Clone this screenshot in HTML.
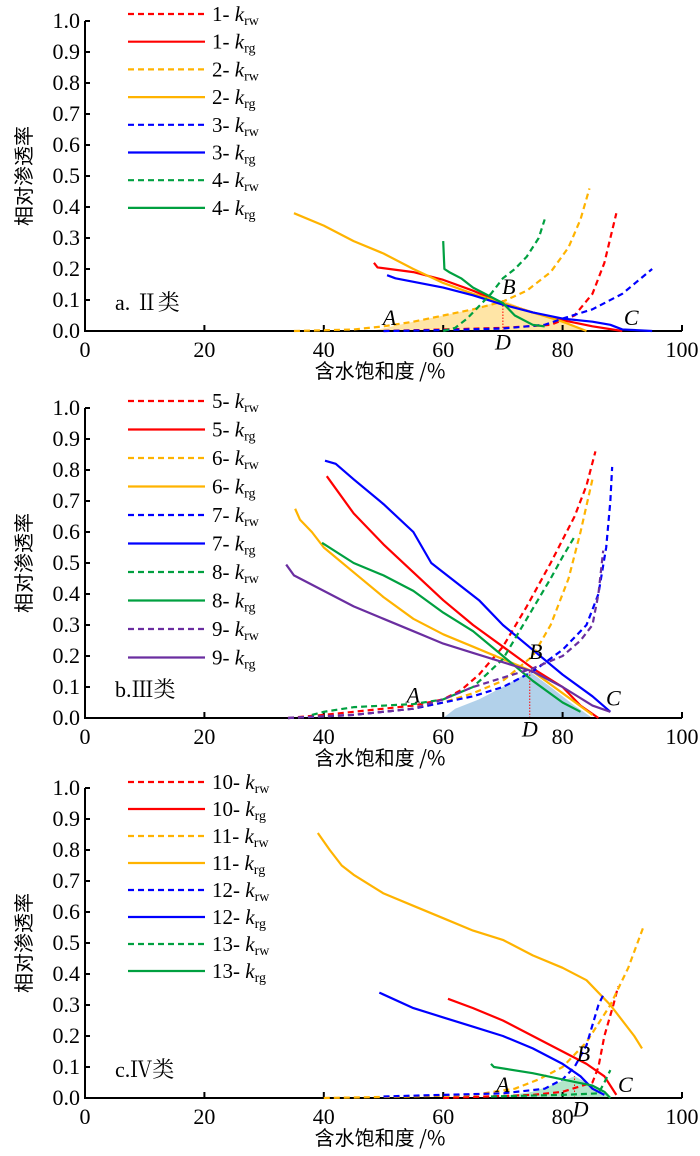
<!DOCTYPE html>
<html><head><meta charset="utf-8"><style>
html,body{margin:0;padding:0;background:#fff;}
svg{display:block;font-family:"Liberation Serif","Noto Serif CJK SC",serif;}
</style></head><body>
<svg id="c" width="700" height="1156" xmlns="http://www.w3.org/2000/svg"></svg>
<script>
const colors={r:"#ff0000",y:"#ffb300",b:"#0000ff",g:"#00a040",p:"#6a2ea0"};
// Panel a series [Sw, k]
const a_krw1=[[50,0],[60,0.005],[70,0.01],[78,0.02],[82,0.05],[85,0.12],[87,0.22],[89,0.38]];
const a_krg1=[[48.4,0.22],[49,0.205],[55,0.19],[60,0.165],[65,0.13],[70,0.09],[75,0.06],[80,0.035],[85,0.015],[90,0]];
const a_krw2=[[35,0],[45,0.005],[50,0.015],[55,0.03],[60,0.05],[65,0.07],[70,0.095],[74,0.13],[78,0.19],[81,0.27],[83,0.36],[84.5,0.46]];
const a_krg2=[[35,0.38],[40,0.34],[45,0.29],[50,0.25],[55,0.2],[60,0.155],[65,0.12],[70,0.09],[75,0.06],[80,0.03],[84,0]];
const a_krw3=[[50,0],[60,0.003],[70,0.008],[77,0.02],[80,0.04],[85,0.07],[90,0.12],[95,0.2]];
const a_krg3=[[50.6,0.18],[52,0.17],[60,0.14],[65,0.115],[70,0.085],[75,0.06],[80,0.04],[85,0.03],[88,0.02],[90,0.005],[95,0]];
const a_krw4=[[60,0],[62,0.01],[64,0.04],[66,0.08],[68,0.12],[70,0.17],[72,0.2],[74,0.24],[76,0.3],[77,0.36]];
const a_krg4=[[60,0.29],[60.2,0.2],[61,0.19],[63,0.17],[65,0.14],[68,0.11],[70,0.09],[72,0.05],[75,0.02],[77,0.015]];
const a_area=[[48,0],[55,0.03],[60,0.05],[65,0.07],[70,0.1],[75,0.06],[80,0.03],[84,0]];
// Panel b
const b_krw5=[[34,0],[40,0.01],[45,0.02],[50,0.03],[55,0.04],[60,0.06],[63,0.09],[66,0.14],[70,0.23],[74,0.36],[78,0.5],[82,0.65],[84,0.75],[85.5,0.86]];
const b_krg5=[[40.5,0.78],[45,0.66],[50,0.56],[55,0.47],[60,0.38],[65,0.3],[70,0.23],[75,0.16],[80,0.1],[83,0.04],[86,0]];
const b_krw6=[[34,0],[45,0.01],[55,0.03],[60,0.05],[65,0.08],[70,0.12],[75,0.2],[78,0.3],[81,0.45],[83,0.6],[85,0.77]];
const b_krg6=[[35.2,0.675],[36,0.64],[38,0.6],[40,0.55],[45,0.47],[50,0.39],[55,0.32],[60,0.27],[65,0.23],[70,0.19],[75,0.15],[80,0.08],[85,0.01]];
const b_krw7=[[34,0],[45,0.01],[55,0.03],[60,0.05],[65,0.07],[70,0.1],[75,0.15],[80,0.22],[84,0.3],[86,0.4],[87.3,0.55],[88,0.7],[88.3,0.81]];
const b_krg7=[[40.2,0.83],[42,0.82],[45,0.77],[50,0.69],[55,0.6],[58,0.5],[62,0.44],[66,0.38],[70,0.3],[75,0.22],[80,0.14],[85,0.07],[88,0.02]];
const b_krw8=[[38,0.01],[40,0.02],[45,0.035],[55,0.045],[60,0.06],[65,0.1],[70,0.19],[74,0.32],[78,0.45],[80,0.52],[82,0.585]];
const b_krg8=[[39.7,0.565],[45,0.5],[50,0.46],[55,0.41],[60,0.34],[65,0.28],[70,0.2],[75,0.12],[80,0.05],[83,0.02]];
const b_krw9=[[34,0],[45,0.01],[55,0.03],[60,0.06],[65,0.1],[70,0.13],[75,0.16],[80,0.2],[83,0.25],[85,0.3],[86,0.4],[86.8,0.54]];
const b_krg9=[[33.7,0.495],[35,0.46],[40,0.41],[45,0.36],[50,0.32],[55,0.28],[60,0.24],[65,0.21],[70,0.18],[75,0.15],[80,0.1],[85,0.04],[88,0.02]];
const b_area=[[60,0],[62,0.03],[66,0.06],[70,0.1],[74.5,0.15],[78,0.1],[82,0.04],[85,0]];
// Panel c
const c_krw10=[[60,0],[75,0.01],[80,0.02],[85,0.05],[86,0.1],[87,0.2],[88.5,0.3],[89.3,0.36]];
const c_krg10=[[60.8,0.32],[65,0.29],[70,0.25],[75,0.2],[80,0.15],[84,0.11],[87,0.07],[88,0.04],[89,0.01]];
const c_krw11=[[40,0],[55,0.005],[65,0.01],[72,0.03],[76,0.06],[80,0.1],[84,0.18],[88,0.3],[91,0.42],[93.5,0.55]];
const c_krg11=[[39,0.855],[41,0.8],[43,0.75],[45,0.72],[50,0.66],[55,0.62],[60,0.58],[65,0.54],[70,0.51],[75,0.46],[80,0.42],[84,0.38],[88,0.3],[92,0.2],[93.3,0.16]];
const c_krw12=[[50,0.005],[60,0.01],[70,0.015],[77,0.03],[80,0.06],[82,0.1],[84,0.17],[86,0.3],[87,0.34]];
const c_krg12=[[49.3,0.34],[55,0.29],[60,0.26],[65,0.23],[70,0.2],[75,0.16],[80,0.11],[83,0.07],[85,0.03],[87,0.01]];
const c_krw13=[[68,0.005],[80,0.01],[86,0.015],[87,0.05],[88,0.09]];
const c_krg13=[[68,0.11],[68.5,0.1],[75,0.08],[80,0.06],[85,0.04],[87,0.02],[88,0]];
const c_area=[[68,0],[75,0.02],[78,0.04],[82,0.07],[86,0.03],[88,0]];
const xTicks=[0,20,40,60,80,100];
const yTicks=[0,0.1,0.2,0.3,0.4,0.5,0.6,0.7,0.8,0.9,1.0];

const svg=document.getElementById('c');
const NS="http://www.w3.org/2000/svg";
function mk(t,attrs,parent){const e=document.createElementNS(NS,t);for(const k in attrs)e.setAttribute(k,attrs[k]);(parent||svg).appendChild(e);return e;}
const X0=85,XS=5.97;
function xs(v){return X0+v*XS;}

function panel(id,y0,series,area,areaColor,Dx,labels,legY,legStep,title){
  const ys=v=>y0-v*310;
  const g=mk('g',{});
  
  
  const ap=mk('polygon',{points:area.map(p=>xs(p[0])+','+ys(p[1])).join(' '),fill:areaColor,'fill-opacity':0.6},g);
  
  
  const peak=area.reduce((m,p)=>p[1]>m[1]?p:m,area[0]);
  const dl=mk('line',{x1:xs(Dx),x2:xs(Dx),y1:ys(0),y2:ys(peak[1]),stroke:'#f00','stroke-width':1,'stroke-dasharray':'1.5,1.5'},g);
  
  
  const ax=mk('path',{d:`M${xs(0)},${ys(1)} L${xs(0)},${ys(0)} L${xs(100)},${ys(0)}`,stroke:'#000','stroke-width':2,fill:'none'},g);
  
  
  xTicks.forEach(t=>{
    mk('line',{x1:xs(t),x2:xs(t),y1:ys(0),y2:ys(0)-6,stroke:'#000','stroke-width':2},g);
    const tx=mk('text',{x:xs(t),y:ys(0)+26,'font-size':22,'text-anchor':'middle'},g);tx.textContent=t;
    
    
  });
  yTicks.forEach(t=>{
    mk('line',{x1:xs(0),x2:xs(0)+5,y1:ys(t),y2:ys(t),stroke:'#000','stroke-width':2},g);
    const ty=mk('text',{x:xs(0)-5,y:ys(t)+7,'font-size':22,'text-anchor':'end'},g);ty.textContent=t.toFixed(1);
    
    
  });
  const yt=mk('text',{x:0,y:0,'font-size':20,'text-anchor':'middle',transform:`translate(31,${ys(0.5)}) rotate(-90)`,'font-family':'"Noto Sans CJK SC",sans-serif'},g);
  yt.textContent='相对渗透率';
  
  
  const xt=mk('text',{x:380,y:ys(0)+47,'font-size':20,'text-anchor':'middle','font-family':'"Noto Sans CJK SC",sans-serif'},g);
  xt.textContent='含水饱和度 /%';
  
  
  const pt=mk('text',{x:115,y:ys(0.1)+10,'font-size':22,'font-family':'"Liberation Serif","Noto Serif CJK SC",serif'},g);
  pt.textContent=title;
  
  
  series.forEach((s,i)=>{
    const p=mk('polyline',{points:s.d.map(q=>xs(q[0])+','+ys(q[1])).join(' '),fill:'none',stroke:colors[s.c],'stroke-width':2.2,'stroke-dasharray':s.dash?'6,4':'none','stroke-linejoin':'round'},g);
    
    
    const ly=legY+i*legStep;
    const ll=mk('line',{x1:128,x2:205,y1:ly,y2:ly,stroke:colors[s.c],'stroke-width':2.2,'stroke-dasharray':s.dash?'6,4':'none'},g);
    
    
    const lt=mk('text',{x:212,y:ly+7,'font-size':21},g);
    lt.innerHTML=s.n+'- <tspan font-style="italic">k</tspan><tspan font-size="14" dy="4">'+(s.dash?'rw':'rg')+'</tspan>';
    
    
  });
  labels.forEach(l=>{
    const t=mk('text',{x:xs(l[1]),y:ys(l[2]),'font-size':22,'font-style':'italic','text-anchor':'middle'},g);
    t.textContent=l[0];
    
    
  });
}
panel('a',331,[
 {n:1,c:'r',dash:1,d:a_krw1},{n:1,c:'r',dash:0,d:a_krg1},
 {n:2,c:'y',dash:1,d:a_krw2},{n:2,c:'y',dash:0,d:a_krg2},
 {n:3,c:'b',dash:1,d:a_krw3},{n:3,c:'b',dash:0,d:a_krg3},
 {n:4,c:'g',dash:1,d:a_krw4},{n:4,c:'g',dash:0,d:a_krg4}],
 a_area,'#ffd36b',70,[['A',51,0.02],['B',71,0.12],['C',91.5,0.02],['D',70,-0.06]],14,27.7,'a. Ⅱ类');
panel('b',718,[
 {n:5,c:'r',dash:1,d:b_krw5},{n:5,c:'r',dash:0,d:b_krg5},
 {n:6,c:'y',dash:1,d:b_krw6},{n:6,c:'y',dash:0,d:b_krg6},
 {n:7,c:'b',dash:1,d:b_krw7},{n:7,c:'b',dash:0,d:b_krg7},
 {n:8,c:'g',dash:1,d:b_krw8},{n:8,c:'g',dash:0,d:b_krg8},
 {n:9,c:'p',dash:1,d:b_krw9},{n:9,c:'p',dash:0,d:b_krg9}],
 b_area,'#7fb2dc',74.5,[['A',55,0.05],['B',75.5,0.19],['C',88.5,0.04],['D',74.5,-0.06]],401,28.5,'b.Ⅲ类');
panel('c',1098,[
 {n:10,c:'r',dash:1,d:c_krw10},{n:10,c:'r',dash:0,d:c_krg10},
 {n:11,c:'y',dash:1,d:c_krw11},{n:11,c:'y',dash:0,d:c_krg11},
 {n:12,c:'b',dash:1,d:c_krw12},{n:12,c:'b',dash:0,d:c_krg12},
 {n:13,c:'g',dash:1,d:c_krw13},{n:13,c:'g',dash:0,d:c_krg13}],
 c_area,'#7fd6a6',82,[['A',70,0.02],['B',83.5,0.12],['C',90.5,0.02],['D',83,-0.06]],782,27,'c.Ⅳ类');
</script>
</body></html>
